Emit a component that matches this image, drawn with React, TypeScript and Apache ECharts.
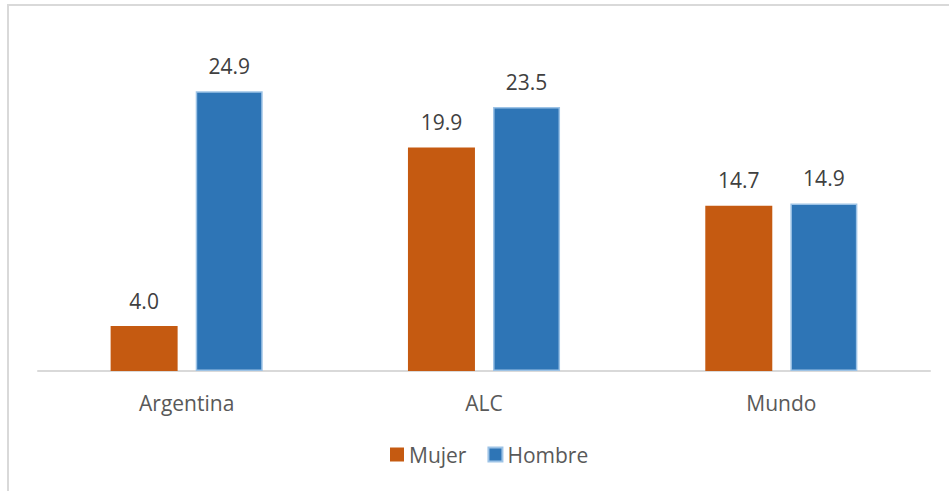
import React, { useEffect, useRef } from "react";
import * as echarts from "echarts";

const categories = ["Argentina", "ALC", "Mundo"];
const mujer = [4.0, 19.9, 14.7];
const hombre = [24.9, 23.5, 14.9];
const seriesNames = ["Mujer", "Hombre"];

const FONT = "'Open Sans', 'Noto Sans', sans-serif";
const FS = 21;

export default function App() {
  const ref = useRef<HTMLDivElement>(null);

  useEffect(() => {
    if (!ref.current) return;
    const chart = echarts.init(ref.current, undefined, { renderer: "svg" });
    const valueLabel = {
      show: true,
      position: "top",
      distance: 15,
      formatter: (p: any) => Number(p.value).toFixed(1),
      fontFamily: FONT,
      fontSize: FS,
      color: "#404040",
    };
    chart.setOption({
      animation: false,
      backgroundColor: "#ffffff",
      graphic: [
        {
          type: "rect",
          shape: { x: 8, y: 5, width: 960, height: 520 },
          style: { fill: "none", stroke: "#d9d9d9", lineWidth: 2 },
          silent: true,
          z: -1,
        },
      ],
      grid: { left: 38, right: 19, top: 34, bottom: 120 },
      legend: {
        data: seriesNames,
        top: 439,
        left: 385,
        itemWidth: 14,
        itemHeight: 14,
        itemGap: 21,
        icon: "rect",
        textStyle: { fontFamily: FONT, fontSize: FS, color: "#595959" },
      },
      xAxis: {
        type: "category",
        data: categories,
        axisLine: { lineStyle: { color: "#d9d9d9", width: 2 } },
        axisTick: { show: false },
        axisLabel: {
          fontFamily: FONT,
          fontSize: FS,
          color: "#595959",
          margin: 21,
        },
      },
      yAxis: {
        type: "value",
        min: 0,
        max: 30,
        show: false,
        splitLine: { show: false },
      },
      series: [
        {
          name: seriesNames[0],
          type: "bar",
          data: mujer,
          barWidth: 67,
          barGap: "27%",
          itemStyle: { color: "#C55A11" },
          label: valueLabel,
        },
        {
          name: seriesNames[1],
          type: "bar",
          data: hombre,
          barWidth: 67,
          itemStyle: { color: "#2E75B6", borderColor: "#9DC3E6", borderWidth: 1.5 },
          label: valueLabel,
        },
      ],
    });
    return () => chart.dispose();
  }, []);

  return (
    <div
      ref={ref}
      style={{ position: "fixed", left: 0, top: 0, width: 949, height: 491 }}
    />
  );
}
